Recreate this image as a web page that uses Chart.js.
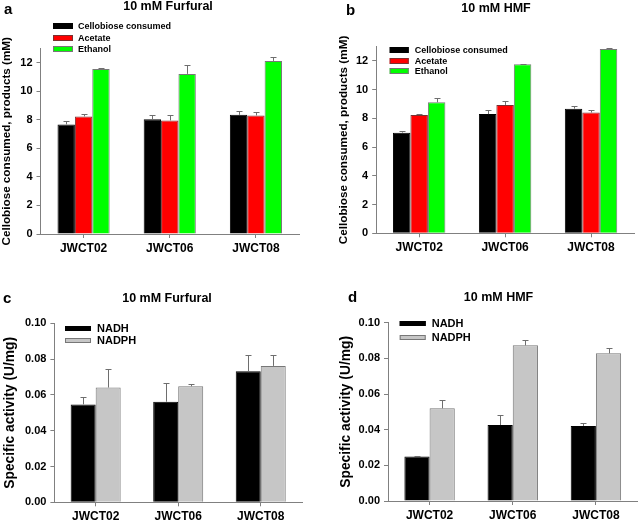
<!DOCTYPE html>
<html><head><meta charset="utf-8">
<script src="https://cdn.jsdelivr.net/npm/chart.js@4.4.1/dist/chart.umd.min.js"></script>
<style>
html,body{margin:0;padding:0;background:#fff;}
#wrap{position:relative;width:638px;height:522px;overflow:hidden;background:#fff;}
canvas{position:absolute;}
</style></head><body>
<div id="wrap">
<canvas id="ca" width="318" height="260" style="left:0;top:0;width:318px;height:260px"></canvas>
<canvas id="cb" width="320" height="260" style="left:318px;top:0;width:320px;height:260px"></canvas>
<canvas id="cc" width="318" height="262" style="left:0;top:260px;width:318px;height:262px"></canvas>
<canvas id="cd" width="320" height="262" style="left:318px;top:260px;width:320px;height:262px"></canvas>
</div>
<script>
// ---------- data ----------
const strains = ['JWCT02', 'JWCT06', 'JWCT08'];

const productTicks = [0, 2, 4, 6, 8, 10, 12];
const activityTicks = [0, 0.02, 0.04, 0.06, 0.08, 0.10];
const activityTickLabels = ['0.00', '0.02', '0.04', '0.06', '0.08', '0.10'];

// a: 10 mM Furfural, products
const furCellobiose = [7.68, 8.05, 8.35];
const furCellobioseErr = [0.24, 0.32, 0.28];
const furAcetate = [8.24, 7.96, 8.31];
const furAcetateErr = [0.16, 0.36, 0.21];
const furEthanol = [11.56, 11.22, 12.13];
const furEthanolErr = [0.06, 0.65, 0.30];

// b: 10 mM HMF, products
const hmfCellobiose = [7.01, 8.30, 8.68];
const hmfCellobioseErr = [0.09, 0.29, 0.19];
const hmfAcetate = [8.24, 8.94, 8.41];
const hmfAcetateErr = [0.07, 0.25, 0.20];
const hmfEthanol = [9.12, 11.77, 12.84];
const hmfEthanolErr = [0.28, 0.05, 0.04];

// c: 10 mM Furfural, specific activity
const furNADH = [0.0547, 0.0562, 0.0732];
const furNADHErr = [0.0041, 0.0103, 0.0089];
const furNADPH = [0.0641, 0.0648, 0.0762];
const furNADPHErr = [0.0102, 0.0013, 0.0063];

// d: 10 mM HMF, specific activity
const hmfNADH = [0.0249, 0.0426, 0.0421];
const hmfNADHErr = [0.0003, 0.0054, 0.0016];
const hmfNADPH = [0.0520, 0.0873, 0.0828];
const hmfNADPHErr = [0.0044, 0.0030, 0.0032];

const seriesProducts = ['Cellobiose consumed', 'Acetate', 'Ethanol'];
const seriesActivity = ['NADH', 'NADPH'];
const yTitleProducts = 'Cellobiose consumed, products (mM)';
const yTitleActivity = 'Specific activity (U/mg)';

// ---------- styling ----------
const FONT = '"Liberation Sans", Arial, Helvetica, sans-serif';
const AXIS = '#808080';
const EDGE = '#777777';
Chart.defaults.font.family = FONT;
Chart.defaults.color = '#000';

const errorBars = {
  id: 'errorBars',
  afterDatasetsDraw(chart, args, opts) {
    const ctx = chart.ctx, ys = chart.scales.y;
    ctx.save();
    ctx.strokeStyle = opts.color || '#707070';
    ctx.lineWidth = 1;
    chart.data.datasets.forEach((ds, di) => {
      const meta = chart.getDatasetMeta(di);
      meta.data.forEach((bar, i) => {
        const v = ds.data[i], e = ds.errors[i];
        const x = Math.round(bar.x) + 0.5;
        const y0 = ys.getPixelForValue(v);
        const y1 = Math.round(ys.getPixelForValue(v + e)) + 0.5;
        ctx.beginPath();
        ctx.moveTo(x, y0); ctx.lineTo(x, y1);
        ctx.moveTo(x - opts.cap, y1); ctx.lineTo(x + opts.cap, y1);
        ctx.stroke();
      });
    });
    ctx.restore();
  }
};

const panelDecor = {
  id: 'panelDecor',
  afterDraw(chart, args, o) {
    const ctx = chart.ctx;
    ctx.save();
    ctx.fillStyle = '#000';
    ctx.textBaseline = 'middle';
    ctx.textAlign = 'left';
    ctx.font = 'bold 15px ' + FONT;
    ctx.fillText(o.letter, o.letterX, o.letterY);
    ctx.textAlign = 'center';
    ctx.font = 'bold 12.5px ' + FONT;
    ctx.fillText(o.title, o.titleX, o.titleY);
    const L = o.legend;
    ctx.font = 'bold ' + L.size + 'px ' + FONT;
    ctx.textAlign = 'left';
    chart.data.datasets.forEach((ds, i) => {
      const cy = L.y + i * L.dy;
      const top = Math.round(cy - L.h / 2);
      ctx.fillStyle = ds.backgroundColor;
      ctx.fillRect(L.x, top, L.w, L.h);
      ctx.strokeStyle = ds.borderColor;
      ctx.lineWidth = 1;
      ctx.strokeRect(L.x + 0.5, top + 0.5, L.w - 1, L.h - 1);
      ctx.fillStyle = '#000';
      ctx.fillText(ds.label, L.x + L.w + L.gap, cy + 0.5);
    });
    ctx.restore();
  }
};

function makeChart(id, p) {
  return new Chart(document.getElementById(id), {
    type: 'bar',
    data: { labels: strains, datasets: p.datasets },
    options: {
      responsive: false,
      animation: false,
      devicePixelRatio: 1,
      layout: { padding: p.padding },
      datasets: { bar: { categoryPercentage: p.catPct, barPercentage: 1, borderWidth: 1, borderSkipped: 'start' } },
      plugins: {
        legend: { display: false },
        tooltip: { enabled: false },
        errorBars: { cap: 3, color: '#6e6e6e' },
        panelDecor: p.decor
      },
      scales: {
        x: {
          offset: true,
          grid: { offset: false, drawOnChartArea: false, tickLength: 4, color: AXIS, tickColor: AXIS },
          border: { color: AXIS, width: 1 },
          ticks: { font: { size: 12, weight: 'bold' }, padding: 3, color: '#000', maxRotation: 0 },
          afterFit: s => { s.height = p.xHeight; }
        },
        y: {
          min: 0, max: p.ymax,
          afterBuildTicks: s => { s.ticks = p.ticks.map(v => ({ value: v })); },
          grid: { drawOnChartArea: false, tickLength: 4, color: AXIS, tickColor: AXIS },
          border: { color: AXIS, width: 1 },
          ticks: {
            font: { size: p.yTickSize, weight: 'bold' }, padding: 4, color: '#000',
            callback: (v) => p.tickLabel(v)
          },
          title: { display: true, text: p.yTitle, font: { size: p.yTitleSize, weight: 'bold' }, padding: 0, color: '#000' },
          afterFit: s => { s.width = p.yWidth; }
        }
      }
    },
    plugins: [errorBars, panelDecor]
  });
}

function prodSets(c, ce, a, ae, e, ee) {
  return [
    { label: seriesProducts[0], data: c, errors: ce, backgroundColor: '#000000', borderColor: '#000000' },
    { label: seriesProducts[1], data: a, errors: ae, backgroundColor: '#ff0000', borderColor: '#7a3030' },
    { label: seriesProducts[2], data: e, errors: ee, backgroundColor: '#00ff00', borderColor: EDGE }
  ];
}
function actSets(n, ne, p, pe) {
  return [
    { label: seriesActivity[0], data: n, errors: ne, backgroundColor: '#000000', borderColor: '#000000' },
    { label: seriesActivity[1], data: p, errors: pe, backgroundColor: '#c6c6c6', borderColor: EDGE }
  ];
}
const prodLabel = v => String(v);
const actLabel = v => activityTickLabels[activityTicks.findIndex(t => Math.abs(t - v) < 1e-9)] ?? v.toFixed(2);

makeChart('ca', {
  datasets: prodSets(furCellobiose, furCellobioseErr, furAcetate, furAcetateErr, furEthanol, furEthanolErr),
  padding: { left: 0, right: 19, top: 48.5, bottom: 0 },
  yWidth: 40.5, xHeight: 26, ymax: 13, ticks: productTicks, tickLabel: prodLabel,
  yTickSize: 11, yTitle: yTitleProducts, yTitleSize: 11.7, catPct: 0.605,
  decor: { letter: 'a', letterX: 4, letterY: 10, title: '10 mM Furfural', titleX: 168, titleY: 6.5,
    legend: { x: 53, y: 26.3, dy: 11.5, w: 20, h: 6, gap: 5, size: 9 } }
});

makeChart('cb', {
  datasets: prodSets(hmfCellobiose, hmfCellobioseErr, hmfAcetate, hmfAcetateErr, hmfEthanol, hmfEthanolErr),
  padding: { left: 19, right: 4, top: 46.6, bottom: 0 },
  yWidth: 39.2, xHeight: 26.7, ymax: 13, ticks: productTicks, tickLabel: prodLabel,
  yTickSize: 11, yTitle: yTitleProducts, yTitleSize: 11.7, catPct: 0.61,
  decor: { letter: 'b', letterX: 28, letterY: 10.5, title: '10 mM HMF', titleX: 178, titleY: 8.5,
    legend: { x: 71.7, y: 50, dy: 10.6, w: 19, h: 6, gap: 6, size: 9 } }
});

makeChart('cc', {
  datasets: actSets(furNADH, furNADHErr, furNADPH, furNADPHErr),
  padding: { left: 1.6, right: 16, top: 63.3, bottom: 0 },
  yWidth: 52.8, xHeight: 19.7, ymax: 0.10, ticks: activityTicks, tickLabel: actLabel,
  yTickSize: 11, yTitle: yTitleActivity, yTitleSize: 13.8, catPct: 0.606,
  decor: { letter: 'c', letterX: 3, letterY: 39, title: '10 mM Furfural', titleX: 167, titleY: 39,
    legend: { x: 65, y: 68.7, dy: 12, w: 26, h: 5, gap: 6, size: 11 } }
});

makeChart('cd', {
  datasets: actSets(hmfNADH, hmfNADHErr, hmfNADPH, hmfNADPHErr),
  padding: { left: 20, right: 0.5, top: 62.7, bottom: 0 },
  yWidth: 50, xHeight: 21, ymax: 0.10, ticks: activityTicks, tickLabel: actLabel,
  yTickSize: 11, yTitle: yTitleActivity, yTitleSize: 13.8, catPct: 0.606,
  decor: { letter: 'd', letterX: 30, letterY: 38, title: '10 mM HMF', titleX: 180.5, titleY: 38,
    legend: { x: 81.7, y: 63.5, dy: 13.8, w: 26, h: 5, gap: 6, size: 11 } }
});
</script>
</body></html>
